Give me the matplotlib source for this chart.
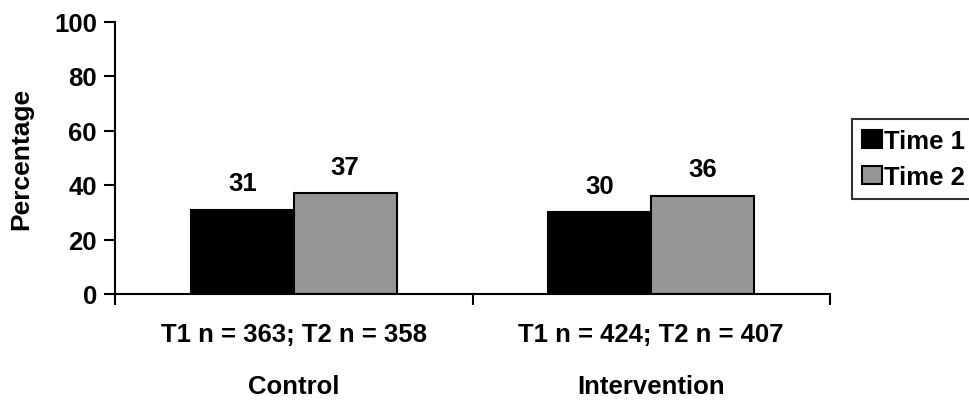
import numpy as np
import matplotlib.pyplot as plt

# Datos
grupos = ["Control", "Intervention"]
n_labels = ["T1 n = 363; T2 n = 358", "T1 n = 424; T2 n = 407"]
series = ["Time 1", "Time 2"]
time1 = [31, 30]
time2 = [37, 36]
colores = ["#000000", "#969696"]

plt.rcParams['font.family'] = ['Liberation Sans', 'DejaVu Sans']
plt.rcParams['font.weight'] = 'bold'
fs = 18.5

fig = plt.figure(figsize=(9.69, 4.02), dpi=100)
ax = fig.add_axes([115/969, 1 - 295/402, (830 - 115)/969, (295 - 22.5)/402])

x = np.arange(len(grupos)) + 0.5
ancho = 0.288
for i, (vals, nombre) in enumerate(zip([time1, time2], series)):
    pos = x + (i - 0.5) * ancho
    ax.bar(pos, vals, ancho, color=colores[i], edgecolor="black",
           linewidth=1.5, label=nombre)
    for p, v in zip(pos, vals):
        ax.annotate(str(v), (p, v), xytext=(0, 14), textcoords="offset points",
                    ha="center", va="baseline", fontsize=fs, fontweight="bold")

ax.set_xlim(0, len(grupos))
ax.set_ylim(0, 100)
ax.set_yticks(range(0, 101, 20))
ax.set_xticks(range(0, len(grupos) + 1))
ax.set_xticklabels([])
ax.tick_params(direction="out", length=8, width=1.5, labelsize=fs, pad=5)
for lab in ax.get_yticklabels():
    lab.set_fontweight("bold")

for s in ["top", "right"]:
    ax.spines[s].set_visible(False)
for s in ["left", "bottom"]:
    ax.spines[s].set_linewidth(1.5)

trans = ax.get_xaxis_transform()
for xi, nl, g in zip(x, n_labels, grupos):
    ax.text(xi, -0.147, nl, transform=trans, ha="center", va="center",
            fontsize=fs, fontweight="bold")
    ax.text(xi, -0.338, g, transform=trans, ha="center", va="center",
            fontsize=fs, fontweight="bold")

ax.set_ylabel("Percentage", fontsize=19, fontweight="bold")
ax.yaxis.set_label_coords(-0.115, 0.5)

leg = fig.legend(loc="lower left", bbox_to_anchor=(852/969, 1 - 200/402),
                 fontsize=fs, frameon=True, fancybox=False, borderpad=0.4,
                 handlelength=0.75, handleheight=0.7, handletextpad=0.1,
                 labelspacing=0.45, borderaxespad=0)
leg.get_frame().set_edgecolor("black")
leg.get_frame().set_linewidth(1.5)
for t in leg.get_texts():
    t.set_fontweight("bold")

plt.savefig("out.png", dpi=100)
